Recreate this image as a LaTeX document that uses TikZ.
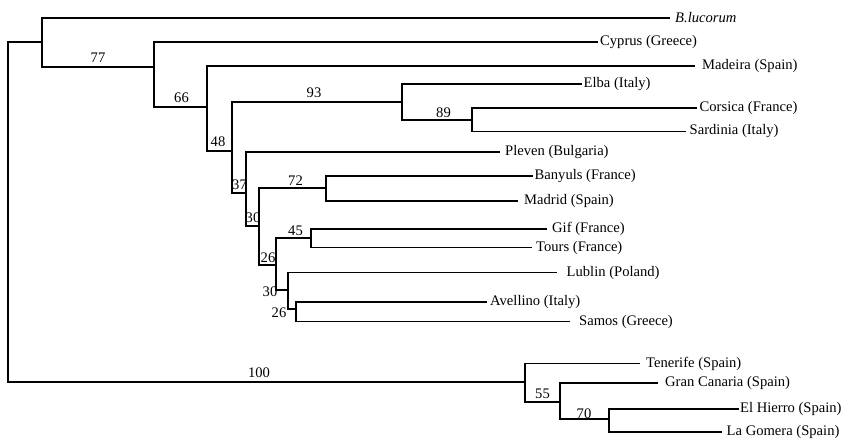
\documentclass[tikz,border=0pt]{standalone}
\usepackage{fontspec}
\setmainfont{Liberation Serif}
\begin{document}
\begin{tikzpicture}[x=1pt,y=-1pt,
  br/.style={draw=black,line width=1.3pt},
  leaf/.style={anchor=west,inner ysep=1pt,font=\fontsize{14.6}{16}\selectfont},
  bs/.style={anchor=base,inner sep=0pt,font=\fontsize{14.6}{16}\selectfont}]
\useasboundingbox (0,0) rectangle (843,439);
% internal nodes (attachment points)
\coordinate (R) at (8,212);
\coordinate (A) at (42,42);
\coordinate (B) at (154,67);
\coordinate (C) at (207,107);
\coordinate (D) at (232,151);
\coordinate (E) at (402,102);
\coordinate (F) at (472,120);
\coordinate (G) at (246,193);
\coordinate (H) at (259,226);
\coordinate (I) at (326,188);
\coordinate (J) at (276,265);
\coordinate (K) at (311,238);
\coordinate (L) at (288,290);
\coordinate (M) at (296,309);
\coordinate (N) at (525,382);
\coordinate (O) at (560,402);
\coordinate (P) at (609,419);
% leaves
\node[leaf,inner xsep=5pt] (blu) at (670,18) {\itshape B.lucorum};
\node[leaf,inner xsep=2pt] (cyp) at (598,42) {Cyprus (Greece)};
\node[leaf,inner xsep=7pt] (mad) at (695,66) {Madeira (Spain)};
\node[leaf,inner xsep=1.5pt] (elb) at (582,84) {Elba (Italy)};
\node[leaf,inner xsep=2.5pt] (cor) at (697,108) {Corsica (France)};
\node[leaf,inner xsep=3.5pt] (sar) at (686,131.5) {Sardinia (Italy)};
\node[leaf,inner xsep=5pt] (ple) at (500,152) {Pleven (Bulgaria)};
\node[leaf,inner xsep=1.5pt] (ban) at (533,176) {Banyuls (France)};
\node[leaf,inner xsep=6pt] (madr) at (518,201) {Madrid (Spain)};
\node[leaf,inner xsep=5pt] (gif) at (547,229) {Gif (France)};
\node[leaf,inner xsep=4pt] (tou) at (532,247.5) {Tours (France)};
\node[leaf,inner xsep=9.5pt] (lub) at (557,272.5) {Lublin (Poland)};
\node[leaf,inner xsep=3pt] (ave) at (487,302) {Avellino (Italy)};
\node[leaf,inner xsep=9pt] (sam) at (570,321.5) {Samos (Greece)};
\node[leaf,inner xsep=6pt] (ten) at (640,363.5) {Tenerife (Spain)};
\node[leaf,inner xsep=7pt] (gca) at (658,383) {Gran Canaria (Spain)};
\node[leaf,inner xsep=1pt] (ehi) at (739,409) {El Hierro (Spain)};
\node[leaf,inner xsep=4.5pt] (lgo) at (722,432) {La Gomera (Spain)};
% branches
\draw[br] (R) |- (A);
\draw[br] (R) |- (N);
\draw[br] (A) |- (blu.west);
\draw[br] (A) |- (B);
\draw[br] (B) |- (cyp.west);
\draw[br] (B) |- (C);
\draw[br] (C) |- (mad.west);
\draw[br] (C) |- (D);
\draw[br] (D) |- (E);
\draw[br] (D) |- (G);
\draw[br] (E) |- (elb.west);
\draw[br] (E) |- (F);
\draw[br] (F) |- (cor.west);
\draw[br] (F) |- (sar.west);
\draw[br] (G) |- (ple.west);
\draw[br] (G) |- (H);
\draw[br] (H) |- (I);
\draw[br] (H) |- (J);
\draw[br] (I) |- (ban.west);
\draw[br] (I) |- (madr.west);
\draw[br] (J) |- (K);
\draw[br] (J) |- (L);
\draw[br] (K) |- (gif.west);
\draw[br] (K) |- (tou.west);
\draw[br] (L) |- (lub.west);
\draw[br] (L) |- (M);
\draw[br] (M) |- (ave.west);
\draw[br] (M) |- (sam.west);
\draw[br] (N) |- (ten.west);
\draw[br] (N) |- (O);
\draw[br] (O) |- (gca.west);
\draw[br] (O) |- (P);
\draw[br] (P) |- (ehi.west);
\draw[br] (P) |- (lgo.west);
% bootstrap values
\node[bs] (b77) at (98,62) {77};
\node[bs] (b66) at (181.5,102) {66};
\node[bs] (b48) at (218,146) {48};
\node[bs] (b93) at (314,97) {93};
\node[bs] (b89) at (443.5,117) {89};
\node[bs] (b37) at (239.5,189) {37};
\node[bs] (b72) at (295.5,185) {72};
\node[bs] (b30a) at (253,222.5) {30};
\node[bs] (b45) at (295.5,235) {45};
\node[bs] (b26a) at (268,262) {26};
\node[bs] (b30b) at (270,296) {30};
\node[bs] (b26b) at (279,317) {26};
\node[bs] (b100) at (259,377) {100};
\node[bs] (b55) at (542.5,398) {55};
\node[bs] (b70) at (584,418) {70};
\end{tikzpicture}
\end{document}
